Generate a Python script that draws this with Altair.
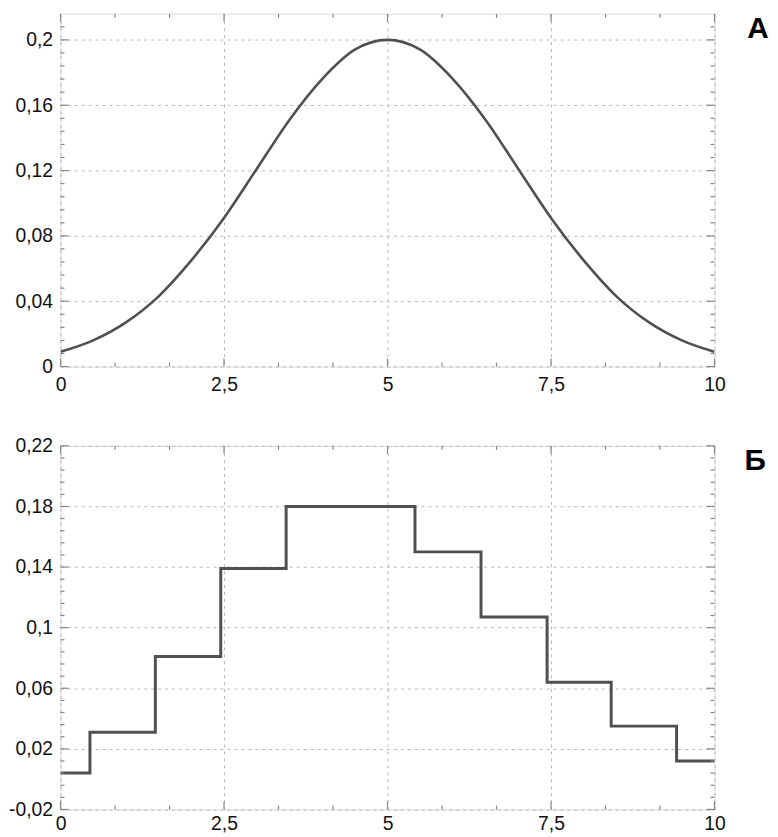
import altair as alt
import pandas as pd

# ---- data ----
curve_x = [0, 0.5, 1, 1.5, 2, 2.5, 3, 3.5, 4, 4.5, 5,
           5.5, 6, 6.5, 7, 7.5, 8, 8.5, 9, 9.5, 10]
curve_y = [0.009, 0.016, 0.027, 0.043, 0.065, 0.091, 0.121, 0.151, 0.176, 0.194, 0.200,
           0.194, 0.176, 0.151, 0.121, 0.091, 0.065, 0.043, 0.027, 0.016, 0.009]

step_edges = [0, 0.45, 1.45, 2.45, 3.45, 5.42, 6.43, 7.44, 8.42, 9.42, 10]
step_values = [0.004, 0.031, 0.081, 0.139, 0.180, 0.150, 0.107, 0.064, 0.035, 0.012, 0.012]

x_major = [0, 2.5, 5, 7.5, 10]
x_minor = [0.8333, 1.6667, 3.3333, 4.1667, 5.8333, 6.6667, 8.3333, 9.1667]

top_y_domain = [0, 0.216]
top_y_major = [0, 0.04, 0.08, 0.12, 0.16, 0.2]
top_y_minor = [0.008, 0.016, 0.024, 0.032, 0.048, 0.056, 0.064, 0.072,
               0.088, 0.096, 0.104, 0.112, 0.128, 0.136, 0.144, 0.152,
               0.168, 0.176, 0.184, 0.192, 0.208]

bot_y_domain = [-0.02, 0.22]
bot_y_major = [-0.02, 0.02, 0.06, 0.1, 0.14, 0.18, 0.22]
bot_y_minor = [-0.012, -0.004, 0.004, 0.012, 0.028, 0.036, 0.044, 0.052,
               0.068, 0.076, 0.084, 0.092, 0.108, 0.116, 0.124, 0.132,
               0.148, 0.156, 0.164, 0.172, 0.188, 0.196, 0.204, 0.212]

panel_labels = ["А", "Б"]

# ---- styling ----
W = 660
FONT = "Liberation Sans"
AXIS_GRAY = "#858585"
LABEL_EXPR = "replace(replace(format(datum.value, '.2~f'), '.', ','), '\u2212', '-')"


def make_axes(y_major, x_pad):
    x_axis = alt.Axis(values=x_major, labelExpr=LABEL_EXPR, title=None,
                      grid=True, gridDash=[3, 4], gridColor="#b8b8b8", gridWidth=1,
                      ticks=False, domain=False, labelFlush=False,
                      labelFont=FONT, labelFontSize=19.5, labelColor="#111111",
                      labelPadding=x_pad, minExtent=28, maxExtent=28)
    y_axis = alt.Axis(values=y_major, labelExpr=LABEL_EXPR, title=None,
                      grid=True, gridDash=[3, 4], gridColor="#b8b8b8", gridWidth=1,
                      ticks=False, domain=False,
                      labelFont=FONT, labelFontSize=19.5, labelColor="#111111",
                      labelPadding=8, minExtent=47, maxExtent=47)
    return x_axis, y_axis


def tick_layers(xs, ys, xa, ya, H, y_major, y_minor):
    layers = []
    for vals, L in ((x_major, 8), (x_minor, 4)):
        df = pd.DataFrame({"v": vals})
        base = alt.Chart(df).mark_rule(color=AXIS_GRAY, strokeWidth=1.2)
        layers.append(base.encode(x=alt.X("v:Q", scale=xs, axis=xa),
                                  y=alt.value(H), y2=alt.value(H - L)))
        layers.append(base.encode(x=alt.X("v:Q", scale=xs, axis=xa),
                                  y=alt.value(0), y2=alt.value(L)))
    for vals, L in ((y_major, 8), (y_minor, 4)):
        df = pd.DataFrame({"v": vals})
        base = alt.Chart(df).mark_rule(color=AXIS_GRAY, strokeWidth=1.2)
        layers.append(base.encode(y=alt.Y("v:Q", scale=ys, axis=ya),
                                  x=alt.value(0), x2=alt.value(L)))
        layers.append(base.encode(y=alt.Y("v:Q", scale=ys, axis=ya),
                                  x=alt.value(W), x2=alt.value(W - L)))
    return layers


def panel(main_df, interp, H, ydom, y_major, y_minor, label, label_y, label_x,
          stroke_w, x_pad):
    xs = alt.Scale(domain=[0, 10], nice=False, zero=False)
    ys = alt.Scale(domain=ydom, nice=False, zero=False)
    xa, ya = make_axes(y_major, x_pad)
    line = alt.Chart(main_df).mark_line(
        interpolate=interp, color="#505050", strokeWidth=stroke_w, clip=True
    ).encode(
        x=alt.X("x:Q", scale=xs, axis=xa),
        y=alt.Y("y:Q", scale=ys, axis=ya),
    )
    lab = alt.Chart(pd.DataFrame({"t": [label]})).mark_text(
        font=FONT, fontSize=30, fontWeight="bold", color="#000000",
        align="center", baseline="top"
    ).encode(x=alt.value(label_x), y=alt.value(label_y), text="t:N")
    return alt.layer(line, *tick_layers(xs, ys, xa, ya, H, y_major, y_minor), lab).properties(
        width=W, height=H
    )


curve_df = pd.DataFrame({"x": curve_x, "y": curve_y})
step_df = pd.DataFrame({"x": step_edges, "y": step_values})

top = panel(curve_df, "monotone", 356, top_y_domain, top_y_major, top_y_minor,
            panel_labels[0], 0, 704, 2.6, 9)
bottom = panel(step_df, "step-after", 367, bot_y_domain, bot_y_major, bot_y_minor,
               panel_labels[1], 0, 701, 3, 5)

chart = alt.vconcat(top, bottom, spacing=40).properties(
    padding={"left": 0, "top": 0, "right": 0, "bottom": 0}
).configure_view(
    stroke=AXIS_GRAY, strokeWidth=1.6, fill="#ececec"
).configure(background="#ffffff")

chart.save("out.html", embed_options={"renderer": "svg", "actions": False})
